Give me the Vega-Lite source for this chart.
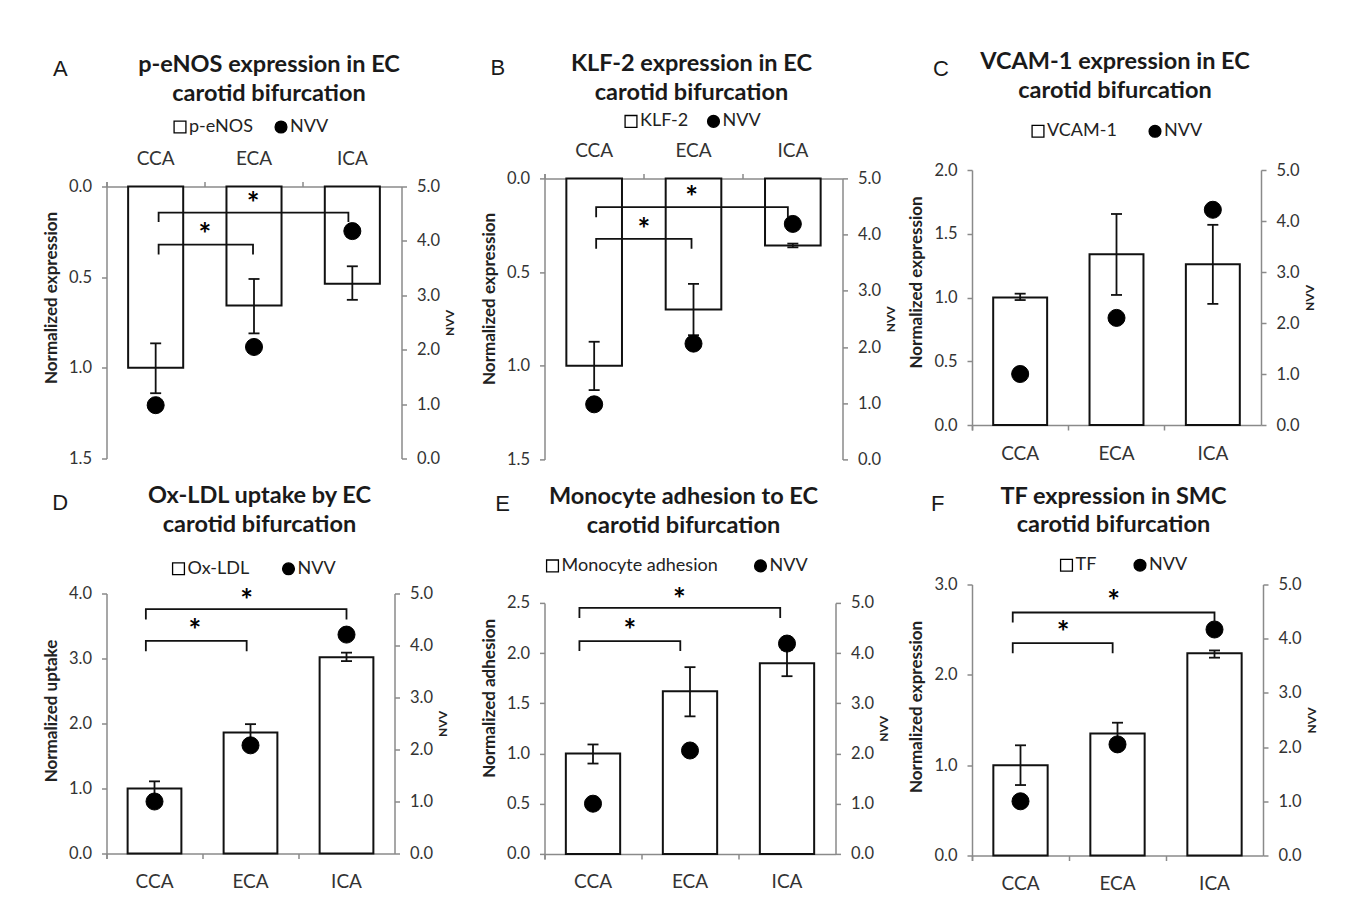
{
  "$schema": "https://vega.github.io/schema/vega-lite/v6.json",
  "background": "white",
  "padding": {"left": 41.5, "top": 50, "right": 5, "bottom": 2},
  "datasets": {
    "bars": [
      {"p": "A", "site": "CCA", "v": 1.0, "lo": 0.865, "hi": 1.14, "nvv": 0.98},
      {"p": "A", "site": "ECA", "v": 0.656, "lo": 0.51, "hi": 0.81, "nvv": 2.05},
      {"p": "A", "site": "ICA", "v": 0.536, "lo": 0.44, "hi": 0.625, "nvv": 4.18},
      {"p": "B", "site": "CCA", "v": 1.0, "lo": 0.872, "hi": 1.13, "nvv": 0.98},
      {"p": "B", "site": "ECA", "v": 0.70, "lo": 0.563, "hi": 0.837, "nvv": 2.06},
      {"p": "B", "site": "ICA", "v": 0.358, "lo": 0.348, "hi": 0.368, "nvv": 4.19},
      {"p": "C", "site": "CCA", "v": 1.0, "lo": 0.98, "hi": 1.03, "nvv": 1.0},
      {"p": "C", "site": "ECA", "v": 1.34, "lo": 1.02, "hi": 1.655, "nvv": 2.1},
      {"p": "C", "site": "ICA", "v": 1.26, "lo": 0.95, "hi": 1.57, "nvv": 4.22},
      {"p": "D", "site": "CCA", "v": 1.0, "lo": 0.9, "hi": 1.11, "nvv": 1.0},
      {"p": "D", "site": "ECA", "v": 1.86, "lo": 1.73, "hi": 1.99, "nvv": 2.08},
      {"p": "D", "site": "ICA", "v": 3.02, "lo": 2.96, "hi": 3.09, "nvv": 4.21},
      {"p": "E", "site": "CCA", "v": 1.0, "lo": 0.9, "hi": 1.09, "nvv": 1.0},
      {"p": "E", "site": "ECA", "v": 1.62, "lo": 1.37, "hi": 1.86, "nvv": 2.06},
      {"p": "E", "site": "ICA", "v": 1.90, "lo": 1.77, "hi": 2.03, "nvv": 4.19},
      {"p": "F", "site": "CCA", "v": 1.0, "lo": 0.78, "hi": 1.22, "nvv": 1.0},
      {"p": "F", "site": "ECA", "v": 1.35, "lo": 1.23, "hi": 1.47, "nvv": 2.05},
      {"p": "F", "site": "ICA", "v": 2.24, "lo": 2.19, "hi": 2.27, "nvv": 4.17}
    ],
    "brackets": [
      {"p": "A", "b": 1, "o": 0, "x": 0.53, "y": 0.196},
      {"p": "A", "b": 1, "o": 1, "x": 0.53, "y": 0.144},
      {"p": "A", "b": 1, "o": 2, "x": 2.46, "y": 0.144},
      {"p": "A", "b": 1, "o": 3, "x": 2.46, "y": 0.196},
      {"p": "A", "b": 2, "o": 0, "x": 0.53, "y": 0.375},
      {"p": "A", "b": 2, "o": 1, "x": 0.53, "y": 0.32},
      {"p": "A", "b": 2, "o": 2, "x": 1.49, "y": 0.32},
      {"p": "A", "b": 2, "o": 3, "x": 1.49, "y": 0.375},
      {"p": "B", "b": 1, "o": 0, "x": 0.52, "y": 0.207},
      {"p": "B", "b": 1, "o": 1, "x": 0.52, "y": 0.153},
      {"p": "B", "b": 1, "o": 2, "x": 2.45, "y": 0.153},
      {"p": "B", "b": 1, "o": 3, "x": 2.45, "y": 0.207},
      {"p": "B", "b": 2, "o": 0, "x": 0.52, "y": 0.376},
      {"p": "B", "b": 2, "o": 1, "x": 0.52, "y": 0.323},
      {"p": "B", "b": 2, "o": 2, "x": 1.48, "y": 0.323},
      {"p": "B", "b": 2, "o": 3, "x": 1.48, "y": 0.376},
      {"p": "D", "b": 1, "o": 0, "x": 0.41, "y": 3.6},
      {"p": "D", "b": 1, "o": 1, "x": 0.41, "y": 3.76},
      {"p": "D", "b": 1, "o": 2, "x": 2.5, "y": 3.76},
      {"p": "D", "b": 1, "o": 3, "x": 2.5, "y": 3.6},
      {"p": "D", "b": 2, "o": 0, "x": 0.41, "y": 3.11},
      {"p": "D", "b": 2, "o": 1, "x": 0.41, "y": 3.27},
      {"p": "D", "b": 2, "o": 2, "x": 1.46, "y": 3.27},
      {"p": "D", "b": 2, "o": 3, "x": 1.46, "y": 3.11},
      {"p": "E", "b": 1, "o": 0, "x": 0.36, "y": 2.35},
      {"p": "E", "b": 1, "o": 1, "x": 0.36, "y": 2.45},
      {"p": "E", "b": 1, "o": 2, "x": 2.43, "y": 2.45},
      {"p": "E", "b": 1, "o": 3, "x": 2.43, "y": 2.35},
      {"p": "E", "b": 2, "o": 0, "x": 0.36, "y": 2.02},
      {"p": "E", "b": 2, "o": 1, "x": 0.36, "y": 2.12},
      {"p": "E", "b": 2, "o": 2, "x": 1.40, "y": 2.12},
      {"p": "E", "b": 2, "o": 3, "x": 1.40, "y": 2.02},
      {"p": "F", "b": 1, "o": 0, "x": 0.42, "y": 2.58},
      {"p": "F", "b": 1, "o": 1, "x": 0.42, "y": 2.69},
      {"p": "F", "b": 1, "o": 2, "x": 2.5, "y": 2.69},
      {"p": "F", "b": 1, "o": 3, "x": 2.5, "y": 2.58},
      {"p": "F", "b": 2, "o": 0, "x": 0.42, "y": 2.24},
      {"p": "F", "b": 2, "o": 1, "x": 0.42, "y": 2.35},
      {"p": "F", "b": 2, "o": 2, "x": 1.45, "y": 2.35},
      {"p": "F", "b": 2, "o": 3, "x": 1.45, "y": 2.24}
    ],
    "stars": [
      {"p": "A", "x": 1.49, "y": 0.061},
      {"p": "A", "x": 1.0, "y": 0.233},
      {"p": "B", "x": 1.48, "y": 0.07},
      {"p": "B", "x": 1.0, "y": 0.242},
      {"p": "D", "x": 1.46, "y": 3.98},
      {"p": "D", "x": 0.92, "y": 3.51},
      {"p": "E", "x": 1.39, "y": 2.59},
      {"p": "E", "x": 0.88, "y": 2.28},
      {"p": "F", "x": 1.46, "y": 2.87},
      {"p": "F", "x": 0.94, "y": 2.53}
    ]
  },
  "spacing": 23,
  "center": true,
  "resolve": {"scale": {"fill": "independent", "shape": "independent", "stroke": "independent"}, "legend": {"fill": "independent", "shape": "independent", "stroke": "independent"}},
  "hconcat": [
    {
      "spacing": 16,
      "resolve": {"scale": {"fill": "independent", "shape": "independent", "stroke": "independent"}, "legend": {"fill": "independent", "shape": "independent", "stroke": "independent"}},
      "vconcat": [
        {
          "title": {"text": "A", "anchor": "start", "frame": "bounds", "offset": -28, "dx": 10.5, "font": "Liberation Sans", "fontSize": 22, "fontWeight": "normal"},
          "resolve": {"scale": {"fill": "independent", "shape": "independent", "stroke": "independent"}, "legend": {"fill": "independent", "shape": "independent", "stroke": "independent"}},
          "vconcat": [
            {
              "width": 295, "height": 272,
              "title": {"text": ["p-eNOS expression in EC", "carotid bifurcation"], "frame": "group", "anchor": "middle", "dx": 15, "offset": 13},
              "resolve": {"scale": {"x": "independent", "y": "independent"}},
              "layer": [
                {
                  "data": {"name": "bars"},
                  "transform": [{"filter": "datum.p == 'A'"}],
                  "encoding": {"x": {"field": "site", "type": "nominal", "scale": {"paddingInner": 0, "paddingOuter": 0}, "axis": {"orient": "top", "title": null, "bandPosition": 0, "tickExtra": true, "labelAngle": 0, "labelFontSize": 19, "labelPadding": 13}}},
                  "layer": [
                    {"mark": {"type": "bar", "width": {"band": 0.56}, "fill": "white", "stroke": "#111111", "strokeWidth": 2},
                     "encoding": {"y": {"field": "v", "type": "quantitative", "scale": {"domain": [0, 1.5], "reverse": true}, "axis": {"orient": "left", "values": [0, 0.5, 1, 1.5], "format": ".1f", "title": "Normalized expression", "titleY": 111}}}},
                    {"mark": {"type": "rule", "color": "#111111", "strokeWidth": 1.8},
                     "encoding": {"y": {"field": "lo", "type": "quantitative", "scale": {"domain": [0, 1.5], "reverse": true}}, "y2": {"field": "hi"}}},
                    {"mark": {"type": "tick", "color": "#111111", "thickness": 1.8, "size": 11, "opacity": 1},
                     "encoding": {"y": {"field": "lo", "type": "quantitative", "scale": {"domain": [0, 1.5], "reverse": true}}}},
                    {"mark": {"type": "tick", "color": "#111111", "thickness": 1.8, "size": 11, "opacity": 1},
                     "encoding": {"y": {"field": "hi", "type": "quantitative", "scale": {"domain": [0, 1.5], "reverse": true}}}}
                  ]
                },
                {
                  "data": {"name": "bars"},
                  "transform": [{"filter": "datum.p == 'A'"}],
                  "mark": {"type": "point", "filled": true, "size": 290, "strokeWidth": 1, "opacity": 1},
                  "encoding": {
                    "x": {"field": "site", "type": "nominal", "scale": {"paddingInner": 0, "paddingOuter": 0}, "axis": null},
                    "y": {"field": "nvv", "type": "quantitative", "scale": {"domain": [0, 5]}, "axis": {"orient": "right", "values": [0, 1, 2, 3, 4, 5], "format": ".1f", "title": "NVV", "titleAngle": 270, "titleBaseline": "top", "titlePadding": 5, "titleFontSize": 12}},
                    "fill": {"datum": "NVV", "type": "nominal", "scale": {"domain": ["p-eNOS", "NVV"], "range": ["white", "black"]}, "legend": {"title": null, "orient": "none", "legendX": 64.5, "legendY": -68.5, "direction": "horizontal", "columnPadding": 19, "encode": {"symbols": {"stroke": {"value": "black"}, "strokeWidth": {"value": 1.3}}}}},
                    "shape": {"datum": "NVV", "type": "nominal", "scale": {"domain": ["p-eNOS", "NVV"], "range": ["square", "circle"]}, "legend": {"title": null, "orient": "none", "legendX": 64.5, "legendY": -68.5, "direction": "horizontal", "columnPadding": 19, "encode": {"symbols": {"stroke": {"value": "black"}, "strokeWidth": {"value": 1.3}}}}},
                    "stroke": {"datum": "NVV", "type": "nominal", "scale": {"domain": ["p-eNOS", "NVV"], "range": ["black", "black"]}, "legend": {"title": null, "orient": "none", "legendX": 64.5, "legendY": -68.5, "direction": "horizontal", "columnPadding": 19, "encode": {"symbols": {"stroke": {"value": "black"}, "strokeWidth": {"value": 1.3}}}}}
                  }
                },
                {
                  "data": {"name": "brackets"},
                  "transform": [{"filter": "datum.p == 'A'"}],
                  "mark": {"type": "line", "color": "#111111", "strokeWidth": 1.8},
                  "encoding": {
                    "x": {"field": "x", "type": "quantitative", "scale": {"domain": [0, 3], "nice": false, "zero": false}, "axis": null},
                    "y": {"field": "y", "type": "quantitative", "scale": {"domain": [0, 1.5], "reverse": true}, "axis": null},
                    "detail": {"field": "b", "type": "nominal"},
                    "order": {"field": "o", "type": "quantitative"}
                  }
                },
                {
                  "data": {"name": "stars"},
                  "transform": [{"filter": "datum.p == 'A'"}],
                  "mark": {"type": "text", "text": "*", "fontSize": 30, "fontWeight": "bold", "color": "black", "align": "center", "baseline": "middle", "dy": 7},
                  "encoding": {
                    "x": {"field": "x", "type": "quantitative", "scale": {"domain": [0, 3], "nice": false, "zero": false}, "axis": null},
                    "y": {"field": "y", "type": "quantitative", "scale": {"domain": [0, 1.5], "reverse": true}, "axis": null}
                  }
                }
              ]
            }
          ]
        },
        {
          "title": {"text": "D", "anchor": "start", "frame": "bounds", "offset": -31, "dx": 9.7, "font": "Liberation Sans", "fontSize": 22, "fontWeight": "normal"},
          "resolve": {"scale": {"fill": "independent", "shape": "independent", "stroke": "independent"}, "legend": {"fill": "independent", "shape": "independent", "stroke": "independent"}},
          "vconcat": [
            {
              "width": 288, "height": 260,
              "title": {"text": ["Ox-LDL uptake by EC", "carotid bifurcation"], "frame": "group", "anchor": "middle", "dx": 9, "offset": 23.8},
              "resolve": {"scale": {"x": "independent", "y": "independent"}},
              "layer": [
                {
                  "data": {"name": "bars"},
                  "transform": [{"filter": "datum.p == 'D'"}],
                  "encoding": {"x": {"field": "site", "type": "nominal", "scale": {"paddingInner": 0, "paddingOuter": 0}, "axis": {"orient": "bottom", "title": " ", "titleFontSize": 1, "titlePadding": 1, "bandPosition": 0, "tickExtra": true, "labelAngle": 0, "labelFontSize": 19, "labelPadding": 14}}},
                  "layer": [
                    {"mark": {"type": "bar", "width": {"band": 0.56}, "fill": "white", "stroke": "#111111", "strokeWidth": 2},
                     "encoding": {"y": {"field": "v", "type": "quantitative", "scale": {"domain": [0, 4]}, "axis": {"orient": "left", "values": [0, 1, 2, 3, 4], "format": ".1f", "title": "Normalized uptake", "titleY": 117}}}},
                    {"mark": {"type": "rule", "color": "#111111", "strokeWidth": 1.8},
                     "encoding": {"y": {"field": "lo", "type": "quantitative", "scale": {"domain": [0, 4]}}, "y2": {"field": "hi"}}},
                    {"mark": {"type": "tick", "color": "#111111", "thickness": 1.8, "size": 11, "opacity": 1},
                     "encoding": {"y": {"field": "lo", "type": "quantitative", "scale": {"domain": [0, 4]}}}},
                    {"mark": {"type": "tick", "color": "#111111", "thickness": 1.8, "size": 11, "opacity": 1},
                     "encoding": {"y": {"field": "hi", "type": "quantitative", "scale": {"domain": [0, 4]}}}}
                  ]
                },
                {
                  "data": {"name": "bars"},
                  "transform": [{"filter": "datum.p == 'D'"}],
                  "mark": {"type": "point", "filled": true, "size": 290, "strokeWidth": 1, "opacity": 1},
                  "encoding": {
                    "x": {"field": "site", "type": "nominal", "scale": {"paddingInner": 0, "paddingOuter": 0}, "axis": null},
                    "y": {"field": "nvv", "type": "quantitative", "scale": {"domain": [0, 5]}, "axis": {"orient": "right", "values": [0, 1, 2, 3, 4, 5], "format": ".1f", "title": "NVV", "titleAngle": 270, "titleBaseline": "top", "titlePadding": 5, "titleFontSize": 12}},
                    "fill": {"datum": "NVV", "type": "nominal", "scale": {"domain": ["Ox-LDL", "NVV"], "range": ["white", "black"]}, "legend": {"title": null, "orient": "none", "legendX": 63, "legendY": -33.7, "direction": "horizontal", "columnPadding": 30, "encode": {"symbols": {"stroke": {"value": "black"}, "strokeWidth": {"value": 1.3}}}}},
                    "shape": {"datum": "NVV", "type": "nominal", "scale": {"domain": ["Ox-LDL", "NVV"], "range": ["square", "circle"]}, "legend": {"title": null, "orient": "none", "legendX": 63, "legendY": -33.7, "direction": "horizontal", "columnPadding": 30, "encode": {"symbols": {"stroke": {"value": "black"}, "strokeWidth": {"value": 1.3}}}}},
                    "stroke": {"datum": "NVV", "type": "nominal", "scale": {"domain": ["Ox-LDL", "NVV"], "range": ["black", "black"]}, "legend": {"title": null, "orient": "none", "legendX": 63, "legendY": -33.7, "direction": "horizontal", "columnPadding": 30, "encode": {"symbols": {"stroke": {"value": "black"}, "strokeWidth": {"value": 1.3}}}}}
                  }
                },
                {
                  "data": {"name": "brackets"},
                  "transform": [{"filter": "datum.p == 'D'"}],
                  "mark": {"type": "line", "color": "#111111", "strokeWidth": 1.8},
                  "encoding": {
                    "x": {"field": "x", "type": "quantitative", "scale": {"domain": [0, 3], "nice": false, "zero": false}, "axis": null},
                    "y": {"field": "y", "type": "quantitative", "scale": {"domain": [0, 4]}, "axis": null},
                    "detail": {"field": "b", "type": "nominal"},
                    "order": {"field": "o", "type": "quantitative"}
                  }
                },
                {
                  "data": {"name": "stars"},
                  "transform": [{"filter": "datum.p == 'D'"}],
                  "mark": {"type": "text", "text": "*", "fontSize": 30, "fontWeight": "bold", "color": "black", "align": "center", "baseline": "middle", "dy": 7},
                  "encoding": {
                    "x": {"field": "x", "type": "quantitative", "scale": {"domain": [0, 3], "nice": false, "zero": false}, "axis": null},
                    "y": {"field": "y", "type": "quantitative", "scale": {"domain": [0, 4]}, "axis": null}
                  }
                }
              ]
            }
          ]
        }
      ]
    },
    {
      "spacing": 9.5,
      "center": true,
      "resolve": {"scale": {"fill": "independent", "shape": "independent", "stroke": "independent"}, "legend": {"fill": "independent", "shape": "independent", "stroke": "independent"}},
      "hconcat": [
        {
          "spacing": 16.5,
          "resolve": {"scale": {"fill": "independent", "shape": "independent", "stroke": "independent"}, "legend": {"fill": "independent", "shape": "independent", "stroke": "independent"}},
          "vconcat": [
            {
              "title": {"text": "B", "anchor": "start", "frame": "bounds", "offset": -28, "dx": 10, "font": "Liberation Sans", "fontSize": 22, "fontWeight": "normal"},
              "resolve": {"scale": {"fill": "independent", "shape": "independent", "stroke": "independent"}, "legend": {"fill": "independent", "shape": "independent", "stroke": "independent"}},
              "vconcat": [
                {
                  "width": 298, "height": 281,
                  "title": {"text": ["KLF-2 expression in EC", "carotid bifurcation"], "frame": "group", "anchor": "middle", "dx": -2, "offset": 8},
                  "resolve": {"scale": {"x": "independent", "y": "independent"}},
                  "layer": [
                    {
                      "data": {"name": "bars"},
                      "transform": [{"filter": "datum.p == 'B'"}],
                      "encoding": {"x": {"field": "site", "type": "nominal", "scale": {"paddingInner": 0, "paddingOuter": 0}, "axis": {"orient": "top", "title": null, "bandPosition": 0, "tickExtra": true, "labelAngle": 0, "labelFontSize": 19, "labelPadding": 13}}},
                      "layer": [
                        {"mark": {"type": "bar", "width": {"band": 0.56}, "fill": "white", "stroke": "#111111", "strokeWidth": 2},
                         "encoding": {"y": {"field": "v", "type": "quantitative", "scale": {"domain": [0, 1.5], "reverse": true}, "axis": {"orient": "left", "values": [0, 0.5, 1, 1.5], "format": ".1f", "title": "Normalized expression", "titleY": 120}}}},
                        {"mark": {"type": "rule", "color": "#111111", "strokeWidth": 1.8},
                         "encoding": {"y": {"field": "lo", "type": "quantitative", "scale": {"domain": [0, 1.5], "reverse": true}}, "y2": {"field": "hi"}}},
                        {"mark": {"type": "tick", "color": "#111111", "thickness": 1.8, "size": 11, "opacity": 1},
                         "encoding": {"y": {"field": "lo", "type": "quantitative", "scale": {"domain": [0, 1.5], "reverse": true}}}},
                        {"mark": {"type": "tick", "color": "#111111", "thickness": 1.8, "size": 11, "opacity": 1},
                         "encoding": {"y": {"field": "hi", "type": "quantitative", "scale": {"domain": [0, 1.5], "reverse": true}}}}
                      ]
                    },
                    {
                      "data": {"name": "bars"},
                      "transform": [{"filter": "datum.p == 'B'"}],
                      "mark": {"type": "point", "filled": true, "size": 290, "strokeWidth": 1, "opacity": 1},
                      "encoding": {
                        "x": {"field": "site", "type": "nominal", "scale": {"paddingInner": 0, "paddingOuter": 0}, "axis": null},
                        "y": {"field": "nvv", "type": "quantitative", "scale": {"domain": [0, 5]}, "axis": {"orient": "right", "values": [0, 1, 2, 3, 4, 5], "format": ".1f", "title": "NVV", "titleAngle": 270, "titleBaseline": "top", "titlePadding": 5, "titleFontSize": 12}},
                        "fill": {"datum": "NVV", "type": "nominal", "scale": {"domain": ["KLF-2", "NVV"], "range": ["white", "black"]}, "legend": {"title": null, "orient": "none", "legendX": 77.5, "legendY": -66, "direction": "horizontal", "columnPadding": 15.5, "encode": {"symbols": {"stroke": {"value": "black"}, "strokeWidth": {"value": 1.3}}}}},
                        "shape": {"datum": "NVV", "type": "nominal", "scale": {"domain": ["KLF-2", "NVV"], "range": ["square", "circle"]}, "legend": {"title": null, "orient": "none", "legendX": 77.5, "legendY": -66, "direction": "horizontal", "columnPadding": 15.5, "encode": {"symbols": {"stroke": {"value": "black"}, "strokeWidth": {"value": 1.3}}}}},
                        "stroke": {"datum": "NVV", "type": "nominal", "scale": {"domain": ["KLF-2", "NVV"], "range": ["black", "black"]}, "legend": {"title": null, "orient": "none", "legendX": 77.5, "legendY": -66, "direction": "horizontal", "columnPadding": 15.5, "encode": {"symbols": {"stroke": {"value": "black"}, "strokeWidth": {"value": 1.3}}}}}
                      }
                    },
                    {
                      "data": {"name": "brackets"},
                      "transform": [{"filter": "datum.p == 'B'"}],
                      "mark": {"type": "line", "color": "#111111", "strokeWidth": 1.8},
                      "encoding": {
                        "x": {"field": "x", "type": "quantitative", "scale": {"domain": [0, 3], "nice": false, "zero": false}, "axis": null},
                        "y": {"field": "y", "type": "quantitative", "scale": {"domain": [0, 1.5], "reverse": true}, "axis": null},
                        "detail": {"field": "b", "type": "nominal"},
                        "order": {"field": "o", "type": "quantitative"}
                      }
                    },
                    {
                      "data": {"name": "stars"},
                      "transform": [{"filter": "datum.p == 'B'"}],
                      "mark": {"type": "text", "text": "*", "fontSize": 30, "fontWeight": "bold", "color": "black", "align": "center", "baseline": "middle", "dy": 7},
                      "encoding": {
                        "x": {"field": "x", "type": "quantitative", "scale": {"domain": [0, 3], "nice": false, "zero": false}, "axis": null},
                        "y": {"field": "y", "type": "quantitative", "scale": {"domain": [0, 1.5], "reverse": true}, "axis": null}
                      }
                    }
                  ]
                }
              ]
            },
            {
              "title": {"text": "E", "anchor": "start", "frame": "bounds", "offset": -31, "dx": 14.7, "font": "Liberation Sans", "fontSize": 22, "fontWeight": "normal"},
              "resolve": {"scale": {"fill": "independent", "shape": "independent", "stroke": "independent"}, "legend": {"fill": "independent", "shape": "independent", "stroke": "independent"}},
              "vconcat": [
                {
                  "width": 291, "height": 251,
                  "title": {"text": ["Monocyte adhesion to EC", "carotid bifurcation"], "frame": "group", "anchor": "middle", "dx": -6.5, "offset": 19.5},
                  "resolve": {"scale": {"x": "independent", "y": "independent"}},
                  "layer": [
                    {
                      "data": {"name": "bars"},
                      "transform": [{"filter": "datum.p == 'E'"}],
                      "encoding": {"x": {"field": "site", "type": "nominal", "scale": {"paddingInner": 0, "paddingOuter": 0}, "axis": {"orient": "bottom", "title": " ", "titleFontSize": 1, "titlePadding": 8.7, "bandPosition": 0, "tickExtra": true, "labelAngle": 0, "labelFontSize": 19, "labelPadding": 14}}},
                      "layer": [
                        {"mark": {"type": "bar", "width": {"band": 0.56}, "fill": "white", "stroke": "#111111", "strokeWidth": 2},
                         "encoding": {"y": {"field": "v", "type": "quantitative", "scale": {"domain": [0, 2.5]}, "axis": {"orient": "left", "values": [0, 0.5, 1, 1.5, 2, 2.5], "format": ".1f", "title": "Normalized adhesion", "titleY": 95}}}},
                        {"mark": {"type": "rule", "color": "#111111", "strokeWidth": 1.8},
                         "encoding": {"y": {"field": "lo", "type": "quantitative", "scale": {"domain": [0, 2.5]}}, "y2": {"field": "hi"}}},
                        {"mark": {"type": "tick", "color": "#111111", "thickness": 1.8, "size": 11, "opacity": 1},
                         "encoding": {"y": {"field": "lo", "type": "quantitative", "scale": {"domain": [0, 2.5]}}}},
                        {"mark": {"type": "tick", "color": "#111111", "thickness": 1.8, "size": 11, "opacity": 1},
                         "encoding": {"y": {"field": "hi", "type": "quantitative", "scale": {"domain": [0, 2.5]}}}}
                      ]
                    },
                    {
                      "data": {"name": "bars"},
                      "transform": [{"filter": "datum.p == 'E'"}],
                      "mark": {"type": "point", "filled": true, "size": 290, "strokeWidth": 1, "opacity": 1},
                      "encoding": {
                        "x": {"field": "site", "type": "nominal", "scale": {"paddingInner": 0, "paddingOuter": 0}, "axis": null},
                        "y": {"field": "nvv", "type": "quantitative", "scale": {"domain": [0, 5]}, "axis": {"orient": "right", "values": [0, 1, 2, 3, 4, 5], "format": ".1f", "title": "NVV", "titleAngle": 270, "titleBaseline": "top", "titlePadding": 5, "titleFontSize": 12}},
                        "fill": {"datum": "NVV", "type": "nominal", "scale": {"domain": ["Monocyte adhesion", "NVV"], "range": ["white", "black"]}, "legend": {"title": null, "orient": "none", "legendX": -1, "legendY": -46, "direction": "horizontal", "columnPadding": 33, "encode": {"symbols": {"stroke": {"value": "black"}, "strokeWidth": {"value": 1.3}}}}},
                        "shape": {"datum": "NVV", "type": "nominal", "scale": {"domain": ["Monocyte adhesion", "NVV"], "range": ["square", "circle"]}, "legend": {"title": null, "orient": "none", "legendX": -1, "legendY": -46, "direction": "horizontal", "columnPadding": 33, "encode": {"symbols": {"stroke": {"value": "black"}, "strokeWidth": {"value": 1.3}}}}},
                        "stroke": {"datum": "NVV", "type": "nominal", "scale": {"domain": ["Monocyte adhesion", "NVV"], "range": ["black", "black"]}, "legend": {"title": null, "orient": "none", "legendX": -1, "legendY": -46, "direction": "horizontal", "columnPadding": 33, "encode": {"symbols": {"stroke": {"value": "black"}, "strokeWidth": {"value": 1.3}}}}}
                      }
                    },
                    {
                      "data": {"name": "brackets"},
                      "transform": [{"filter": "datum.p == 'E'"}],
                      "mark": {"type": "line", "color": "#111111", "strokeWidth": 1.8},
                      "encoding": {
                        "x": {"field": "x", "type": "quantitative", "scale": {"domain": [0, 3], "nice": false, "zero": false}, "axis": null},
                        "y": {"field": "y", "type": "quantitative", "scale": {"domain": [0, 2.5]}, "axis": null},
                        "detail": {"field": "b", "type": "nominal"},
                        "order": {"field": "o", "type": "quantitative"}
                      }
                    },
                    {
                      "data": {"name": "stars"},
                      "transform": [{"filter": "datum.p == 'E'"}],
                      "mark": {"type": "text", "text": "*", "fontSize": 30, "fontWeight": "bold", "color": "black", "align": "center", "baseline": "middle", "dy": 7},
                      "encoding": {
                        "x": {"field": "x", "type": "quantitative", "scale": {"domain": [0, 3], "nice": false, "zero": false}, "axis": null},
                        "y": {"field": "y", "type": "quantitative", "scale": {"domain": [0, 2.5]}, "axis": null}
                      }
                    }
                  ]
                }
              ]
            }
          ]
        },
        {
          "spacing": 21.5,
          "resolve": {"scale": {"fill": "independent", "shape": "independent", "stroke": "independent"}, "legend": {"fill": "independent", "shape": "independent", "stroke": "independent"}},
          "vconcat": [
            {
              "title": {"text": "C", "anchor": "start", "frame": "bounds", "offset": -31, "dx": 25, "font": "Liberation Sans", "fontSize": 22, "fontWeight": "normal"},
              "resolve": {"scale": {"fill": "independent", "shape": "independent", "stroke": "independent"}, "legend": {"fill": "independent", "shape": "independent", "stroke": "independent"}},
              "vconcat": [
                {
                  "width": 289, "height": 255,
                  "title": {"text": ["VCAM-1 expression in EC", "carotid bifurcation"], "frame": "group", "anchor": "middle", "dx": -1.5, "offset": 20},
                  "resolve": {"scale": {"x": "independent", "y": "independent"}},
                  "layer": [
                    {
                      "data": {"name": "bars"},
                      "transform": [{"filter": "datum.p == 'C'"}],
                      "encoding": {"x": {"field": "site", "type": "nominal", "scale": {"paddingInner": 0, "paddingOuter": 0}, "axis": {"orient": "bottom", "title": null, "bandPosition": 0, "tickExtra": true, "labelAngle": 0, "labelFontSize": 19, "labelPadding": 14}}},
                      "layer": [
                        {"mark": {"type": "bar", "width": {"band": 0.56}, "fill": "white", "stroke": "#111111", "strokeWidth": 2},
                         "encoding": {"y": {"field": "v", "type": "quantitative", "scale": {"domain": [0, 2]}, "axis": {"orient": "left", "values": [0, 0.5, 1, 1.5, 2], "format": ".1f", "title": "Normalized expression", "titleY": 112}}}},
                        {"mark": {"type": "rule", "color": "#111111", "strokeWidth": 1.8},
                         "encoding": {"y": {"field": "lo", "type": "quantitative", "scale": {"domain": [0, 2]}}, "y2": {"field": "hi"}}},
                        {"mark": {"type": "tick", "color": "#111111", "thickness": 1.8, "size": 11, "opacity": 1},
                         "encoding": {"y": {"field": "lo", "type": "quantitative", "scale": {"domain": [0, 2]}}}},
                        {"mark": {"type": "tick", "color": "#111111", "thickness": 1.8, "size": 11, "opacity": 1},
                         "encoding": {"y": {"field": "hi", "type": "quantitative", "scale": {"domain": [0, 2]}}}}
                      ]
                    },
                    {
                      "data": {"name": "bars"},
                      "transform": [{"filter": "datum.p == 'C'"}],
                      "mark": {"type": "point", "filled": true, "size": 290, "strokeWidth": 1, "opacity": 1},
                      "encoding": {
                        "x": {"field": "site", "type": "nominal", "scale": {"paddingInner": 0, "paddingOuter": 0}, "axis": null},
                        "y": {"field": "nvv", "type": "quantitative", "scale": {"domain": [0, 5]}, "axis": {"orient": "right", "values": [0, 1, 2, 3, 4, 5], "format": ".1f", "title": "NVV", "titleAngle": 270, "titleBaseline": "top", "titlePadding": 5, "titleFontSize": 12}},
                        "fill": {"datum": "NVV", "type": "nominal", "scale": {"domain": ["VCAM-1", "NVV"], "range": ["white", "black"]}, "legend": {"title": null, "orient": "none", "legendX": 57, "legendY": -47.7, "direction": "horizontal", "columnPadding": 29, "encode": {"symbols": {"stroke": {"value": "black"}, "strokeWidth": {"value": 1.3}}}}},
                        "shape": {"datum": "NVV", "type": "nominal", "scale": {"domain": ["VCAM-1", "NVV"], "range": ["square", "circle"]}, "legend": {"title": null, "orient": "none", "legendX": 57, "legendY": -47.7, "direction": "horizontal", "columnPadding": 29, "encode": {"symbols": {"stroke": {"value": "black"}, "strokeWidth": {"value": 1.3}}}}},
                        "stroke": {"datum": "NVV", "type": "nominal", "scale": {"domain": ["VCAM-1", "NVV"], "range": ["black", "black"]}, "legend": {"title": null, "orient": "none", "legendX": 57, "legendY": -47.7, "direction": "horizontal", "columnPadding": 29, "encode": {"symbols": {"stroke": {"value": "black"}, "strokeWidth": {"value": 1.3}}}}}
                      }
                    }
                  ]
                }
              ]
            },
            {
              "title": {"text": "F", "anchor": "start", "frame": "bounds", "offset": -31, "dx": 23, "font": "Liberation Sans", "fontSize": 22, "fontWeight": "normal"},
              "resolve": {"scale": {"fill": "independent", "shape": "independent", "stroke": "independent"}, "legend": {"fill": "independent", "shape": "independent", "stroke": "independent"}},
              "vconcat": [
                {
                  "width": 291, "height": 271,
                  "title": {"text": ["TF expression in SMC", "carotid bifurcation"], "frame": "group", "anchor": "middle", "dx": -4, "offset": 19.7},
                  "resolve": {"scale": {"x": "independent", "y": "independent"}},
                  "layer": [
                    {
                      "data": {"name": "bars"},
                      "transform": [{"filter": "datum.p == 'F'"}],
                      "encoding": {"x": {"field": "site", "type": "nominal", "scale": {"paddingInner": 0, "paddingOuter": 0}, "axis": {"orient": "bottom", "title": " ", "titleFontSize": 1, "titlePadding": 15.5, "bandPosition": 0, "tickExtra": true, "labelAngle": 0, "labelFontSize": 19, "labelPadding": 14}}},
                      "layer": [
                        {"mark": {"type": "bar", "width": {"band": 0.56}, "fill": "white", "stroke": "#111111", "strokeWidth": 2},
                         "encoding": {"y": {"field": "v", "type": "quantitative", "scale": {"domain": [0, 3]}, "axis": {"orient": "left", "values": [0, 1, 2, 3], "format": ".1f", "title": "Normalized expression", "titleY": 122}}}},
                        {"mark": {"type": "rule", "color": "#111111", "strokeWidth": 1.8},
                         "encoding": {"y": {"field": "lo", "type": "quantitative", "scale": {"domain": [0, 3]}}, "y2": {"field": "hi"}}},
                        {"mark": {"type": "tick", "color": "#111111", "thickness": 1.8, "size": 11, "opacity": 1},
                         "encoding": {"y": {"field": "lo", "type": "quantitative", "scale": {"domain": [0, 3]}}}},
                        {"mark": {"type": "tick", "color": "#111111", "thickness": 1.8, "size": 11, "opacity": 1},
                         "encoding": {"y": {"field": "hi", "type": "quantitative", "scale": {"domain": [0, 3]}}}}
                      ]
                    },
                    {
                      "data": {"name": "bars"},
                      "transform": [{"filter": "datum.p == 'F'"}],
                      "mark": {"type": "point", "filled": true, "size": 290, "strokeWidth": 1, "opacity": 1},
                      "encoding": {
                        "x": {"field": "site", "type": "nominal", "scale": {"paddingInner": 0, "paddingOuter": 0}, "axis": null},
                        "y": {"field": "nvv", "type": "quantitative", "scale": {"domain": [0, 5]}, "axis": {"orient": "right", "values": [0, 1, 2, 3, 4, 5], "format": ".1f", "title": "NVV", "titleAngle": 270, "titleBaseline": "top", "titlePadding": 5, "titleFontSize": 12}},
                        "fill": {"datum": "NVV", "type": "nominal", "scale": {"domain": ["TF", "NVV"], "range": ["white", "black"]}, "legend": {"title": null, "orient": "none", "legendX": 85.5, "legendY": -28.3, "direction": "horizontal", "columnPadding": 34.5, "encode": {"symbols": {"stroke": {"value": "black"}, "strokeWidth": {"value": 1.3}}}}},
                        "shape": {"datum": "NVV", "type": "nominal", "scale": {"domain": ["TF", "NVV"], "range": ["square", "circle"]}, "legend": {"title": null, "orient": "none", "legendX": 85.5, "legendY": -28.3, "direction": "horizontal", "columnPadding": 34.5, "encode": {"symbols": {"stroke": {"value": "black"}, "strokeWidth": {"value": 1.3}}}}},
                        "stroke": {"datum": "NVV", "type": "nominal", "scale": {"domain": ["TF", "NVV"], "range": ["black", "black"]}, "legend": {"title": null, "orient": "none", "legendX": 85.5, "legendY": -28.3, "direction": "horizontal", "columnPadding": 34.5, "encode": {"symbols": {"stroke": {"value": "black"}, "strokeWidth": {"value": 1.3}}}}}
                      }
                    },
                    {
                      "data": {"name": "brackets"},
                      "transform": [{"filter": "datum.p == 'F'"}],
                      "mark": {"type": "line", "color": "#111111", "strokeWidth": 1.8},
                      "encoding": {
                        "x": {"field": "x", "type": "quantitative", "scale": {"domain": [0, 3], "nice": false, "zero": false}, "axis": null},
                        "y": {"field": "y", "type": "quantitative", "scale": {"domain": [0, 3]}, "axis": null},
                        "detail": {"field": "b", "type": "nominal"},
                        "order": {"field": "o", "type": "quantitative"}
                      }
                    },
                    {
                      "data": {"name": "stars"},
                      "transform": [{"filter": "datum.p == 'F'"}],
                      "mark": {"type": "text", "text": "*", "fontSize": 30, "fontWeight": "bold", "color": "black", "align": "center", "baseline": "middle", "dy": 7},
                      "encoding": {
                        "x": {"field": "x", "type": "quantitative", "scale": {"domain": [0, 3], "nice": false, "zero": false}, "axis": null},
                        "y": {"field": "y", "type": "quantitative", "scale": {"domain": [0, 3]}, "axis": null}
                      }
                    }
                  ]
                }
              ]
            }
          ]
        }
      ]
    }
  ],
  "config": {
    "font": "Lato",
    "view": {"stroke": null},
    "axis": {"grid": false, "domainColor": "#8a8a8a", "domainWidth": 1.5, "tickColor": "#8a8a8a", "tickWidth": 1.5, "tickSize": 5, "labelFont": "Lato", "labelFontSize": 16.5, "labelColor": "#333333", "labelPadding": 10, "titleFont": "Lato", "titleFontSize": 17, "titleFontWeight": "bold", "titleColor": "#222222", "titlePadding": 8},
    "legend": {"labelFont": "Lato", "labelFontSize": 18, "labelColor": "#222222", "symbolSize": 140, "symbolStrokeWidth": 1.3, "labelOffset": 0, "padding": 0},
    "title": {"font": "Lato", "fontSize": 23.5, "fontWeight": "bold", "color": "#1a1a1a", "lineHeight": 28.5}
  }
}
